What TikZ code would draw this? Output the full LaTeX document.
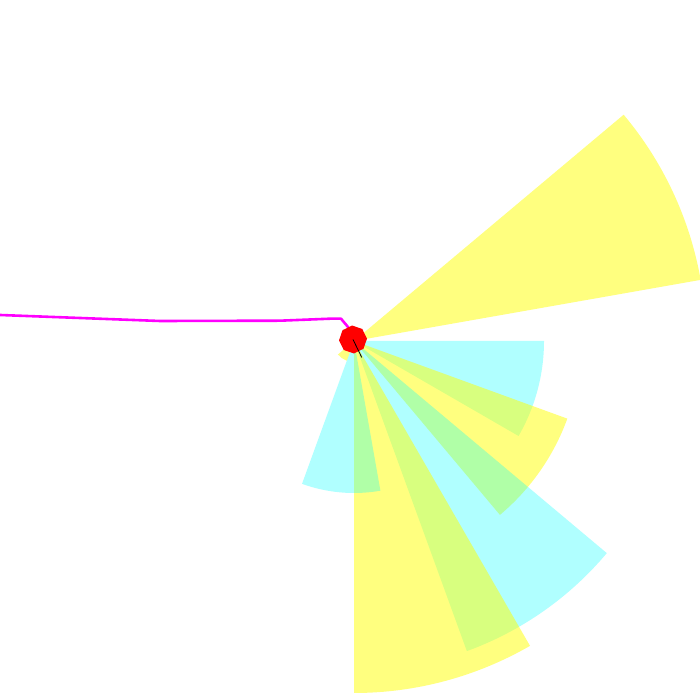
\documentclass[tikz,border=0pt]{standalone}
\usetikzlibrary{shapes.geometric}
\definecolor{pyellow}{RGB}{255,255,0}
\definecolor{pcyan}{RGB}{0,255,255}
\definecolor{pmag}{RGB}{255,0,255}
\definecolor{pred}{RGB}{255,0,0}
\begin{document}
\begin{tikzpicture}[x=1pt,y=1pt,
  ysect/.style={fill=pyellow,fill opacity=0.5},
  csect/.style={fill=pcyan,fill opacity=0.31},
  pathline/.style={draw=pmag,line width=2.6pt,line join=round},
  robot/.style={regular polygon,regular polygon sides=8,minimum size=28pt,inner sep=0pt,fill=pred,rotate=26}]
\useasboundingbox (0,0) rectangle (700,700);
\clip (0,0) rectangle (700,700);
\coordinate (O) at (354,359);
% sensor sectors
\fill[ysect] (O) -- ++(10:352) arc[start angle=10,end angle=40,radius=352] -- cycle;
\fill[csect] (O) -- ++(-30:190) arc[start angle=-30,end angle=0,radius=190] -- cycle;
\fill[ysect] (O) -- ++(-50:227) arc[start angle=-50,end angle=-20,radius=227] -- cycle;
\fill[csect] (O) -- ++(-70:330) arc[start angle=-70,end angle=-40,radius=330] -- cycle;
\fill[ysect] (O) -- ++(-90:352) arc[start angle=-90,end angle=-60,radius=352] -- cycle;
\fill[csect] (O) -- ++(-110:152) arc[start angle=-110,end angle=-80,radius=152] -- cycle;
\fill[ysect] (O) -- ++(-140:21) arc[start angle=-140,end angle=-110,radius=21] -- cycle;
% path
\coordinate (R) at (353,360.5);
\draw[pathline] (0,385) -- (160,379) -- (280,379.3) -- (330,381.3) -- (341,381.3) -- (348,373) -- (R);
% robot
\node[robot] (robot) at (R) {};
\draw[black,line width=0.8pt] (robot.center) -- ++(-64:20);
\end{tikzpicture}
\end{document}
